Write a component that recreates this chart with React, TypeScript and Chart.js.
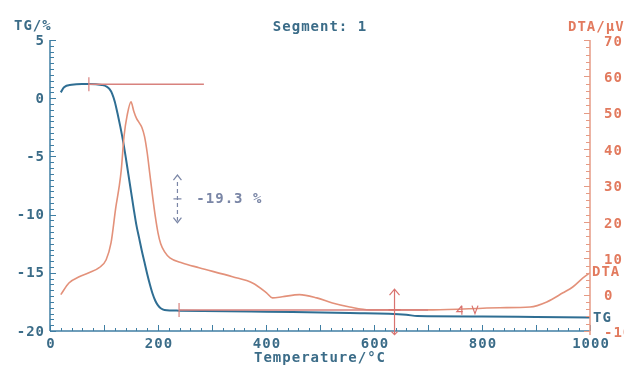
import React, { useEffect, useRef } from "react";
import { Chart, registerables } from "chart.js";

Chart.register(...registerables);

// ---- data ----
const tgTemp = [20, 26, 40, 59, 72, 96, 105, 110, 115, 120, 125, 130, 135, 140, 145, 150, 155, 160, 165, 170, 175, 180, 185, 190, 195, 200, 205, 212, 239, 400, 555, 660, 680, 800, 900, 1000];
const tgValue = [0.5, 0.95, 1.15, 1.22, 1.22, 1.13, 1.0, 0.8, 0.4, -0.3, -1.3, -2.4, -3.6, -5.0, -6.5, -8.0, -9.5, -10.9, -12.0, -13.1, -14.1, -15.1, -16.0, -16.8, -17.4, -17.8, -18.05, -18.2, -18.25, -18.35, -18.45, -18.6, -18.72, -18.75, -18.8, -18.85];

const dtaTemp = [20, 35, 54, 72, 91, 104, 113, 122, 128, 132, 137, 143, 150, 155, 160, 165, 170, 175, 180, 185, 190, 195, 200, 205, 212, 222, 245, 276, 338, 375, 401, 412, 430, 462, 494, 523, 555, 592, 629, 709, 833, 889, 920, 950, 968, 987, 1000];
const dtaValue = [0.0, 3.2, 4.9, 6.0, 7.4, 9.6, 14.2, 24.1, 29.6, 34.3, 43.4, 49.4, 53.0, 50.5, 48.5, 47.3, 46.0, 43.5, 39.0, 33.0, 27.0, 21.5, 17.0, 14.0, 11.8, 10.1, 8.7, 7.4, 4.9, 3.2, 0.5, -0.9, -0.6, 0.0, -0.9, -2.3, -3.4, -4.2, -4.2, -4.2, -3.6, -3.4, -2.0, 0.5, 2.1, 4.6, 6.0];

const upperTangentTemp = [72, 285];
const upperTangentValue = [1.2, 1.2];
const lowerTangentTemp = [239, 700];
const lowerTangentValue = [-18.2, -18.2];
const stepMarkerTemp = [72, 239];
const stepMarkerValue = [1.2, -18.2];

const massLossTemp = 236;
const massLossRange = [-6.6, -10.7];
const massLossLabel = "-19.3 %";
const massLossLabelTemp = 271;

const dtaMarkerTemp = 638;
const dtaMarkerRange = [1.5, -11];
const dtaMarkerCross = -4.2;
const smallMarkerTemp = [759, 787];
const smallMarkerDta = -4.4;

const xTickLabels = [0, 200, 400, 600, 800, 1000];
const tgTickLabels = [5, 0, -5, -10, -15, -20];
const dtaTickLabels = [70, 60, 50, 40, 30, 20, 10, 0, -10];

const titleText = "Segment: 1";
const xTitle = "Temperature/\u00b0C";
const tgTitle = "TG/%";
const dtaTitle = "DTA/\u00b5V";

// ---- style ----
const BLUE = "#2f6e93";
const BLUE_TEXT = "#3b6c88";
const ORANGE = "#e3917a";
const ORANGE_TEXT = "#e27a5e";
const RED = "#d8827e";
const GREY = "#7a86a6";
const FONT = "bold 14px 'DejaVu Sans Mono', monospace";

function pts(xs: number[], ys: number[]) {
  return xs.map((x, i) => ({ x, y: ys[i] }));
}

const axesPlugin = {
  id: "thermoAxes",
  afterDatasetsDraw(chart: any) {
    const ctx = chart.ctx as CanvasRenderingContext2D;
    const xs = chart.scales.x;
    const ys = chart.scales.y;
    const y2 = chart.scales.y2;
    const { left, right, top, bottom } = chart.chartArea;
    ctx.save();
    (ctx as any).letterSpacing = "1px";
    ctx.lineCap = "butt";

    // left axis
    ctx.strokeStyle = "#3f7ea3";
    ctx.lineWidth = 1.5;
    ctx.beginPath();
    ctx.moveTo(left, top);
    ctx.lineTo(left, bottom);
    ctx.stroke();
    ctx.lineWidth = 1;
    for (let v = -20; v <= 5.001; v += 0.5) {
      const y = Math.round(ys.getPixelForValue(v)) + 0.5;
      const major = Math.abs(v % 5) < 0.01;
      ctx.beginPath();
      ctx.moveTo(left, y);
      ctx.lineTo(left + (major ? 6 : 4), y);
      ctx.stroke();
    }
    // bottom axis
    ctx.lineWidth = 1.5;
    ctx.beginPath();
    ctx.moveTo(left, bottom);
    ctx.lineTo(right, bottom);
    ctx.stroke();
    ctx.lineWidth = 1;
    for (let v = 0; v <= 1000; v += 20) {
      const x = Math.round(xs.getPixelForValue(v)) + 0.5;
      const major = v % 100 === 0;
      ctx.beginPath();
      ctx.moveTo(x, bottom);
      ctx.lineTo(x, bottom - (major ? 6 : 3));
      ctx.stroke();
    }
    // right axis
    ctx.strokeStyle = "#e69a84";
    ctx.lineWidth = 1.5;
    ctx.beginPath();
    ctx.moveTo(right, top);
    ctx.lineTo(right, bottom + 4);
    ctx.stroke();
    ctx.lineWidth = 1;
    for (let v = -10; v <= 70; v += 2) {
      const y = Math.round(y2.getPixelForValue(v)) + 0.5;
      const major = v % 10 === 0;
      ctx.beginPath();
      ctx.moveTo(right, y);
      ctx.lineTo(right - (major ? 6 : 4), y);
      ctx.stroke();
    }

    ctx.font = FONT;
    // left labels
    ctx.fillStyle = BLUE_TEXT;
    ctx.textAlign = "right";
    ctx.textBaseline = "middle";
    tgTickLabels.forEach((v) => {
      ctx.fillText(String(v), 45, ys.getPixelForValue(v) + 1);
    });
    // x labels
    ctx.textAlign = "center";
    xTickLabels.forEach((v) => {
      ctx.fillText(String(v), xs.getPixelForValue(v) + 1, bottom + 13);
    });
    ctx.fillText(xTitle, 320, 358);
    ctx.fillText(titleText, 320, 27);
    ctx.textAlign = "left";
    ctx.fillText(tgTitle, 14, 26);
    ctx.fillText("TG", 593, ys.getPixelForValue(-18.85) + 1);

    // right labels
    ctx.fillStyle = ORANGE_TEXT;
    dtaTickLabels.forEach((v) => {
      ctx.fillText(String(v), 604, y2.getPixelForValue(v) + 2);
    });
    ctx.fillText(dtaTitle, 568, 27);
    ctx.fillText("DTA", 592, y2.getPixelForValue(6.0));

    // step markers
    ctx.strokeStyle = RED;
    ctx.lineWidth = 1.2;
    stepMarkerTemp.forEach((t, i) => {
      const x = xs.getPixelForValue(t);
      const y = ys.getPixelForValue(stepMarkerValue[i]);
      ctx.beginPath();
      ctx.moveTo(x, y - 7);
      ctx.lineTo(x, y + 7);
      ctx.stroke();
    });

    // mass-loss annotation
    ctx.strokeStyle = GREY;
    ctx.lineWidth = 1.2;
    const mx = xs.getPixelForValue(massLossTemp);
    const myTop = ys.getPixelForValue(massLossRange[0]);
    const myBot = ys.getPixelForValue(massLossRange[1]);
    ctx.beginPath();
    ctx.moveTo(mx - 4, myTop + 5);
    ctx.lineTo(mx, myTop);
    ctx.lineTo(mx + 4, myTop + 5);
    ctx.moveTo(mx - 4, myBot - 5);
    ctx.lineTo(mx, myBot);
    ctx.lineTo(mx + 4, myBot - 5);
    ctx.stroke();
    ctx.setLineDash([4, 3]);
    ctx.beginPath();
    ctx.moveTo(mx, myTop + 7);
    ctx.lineTo(mx, myBot - 2);
    ctx.stroke();
    ctx.setLineDash([]);
    const mMid = (myTop + myBot) / 2;
    ctx.beginPath();
    ctx.moveTo(mx - 4, mMid);
    ctx.lineTo(mx + 4, mMid);
    ctx.stroke();
    ctx.fillStyle = GREY;
    ctx.font = FONT;
    ctx.textBaseline = "middle";
    ctx.fillText(massLossLabel, xs.getPixelForValue(massLossLabelTemp), mMid);

    // DTA marker
    ctx.strokeStyle = "#d9736f";
    const dx = xs.getPixelForValue(dtaMarkerTemp);
    const dTop = y2.getPixelForValue(dtaMarkerRange[0]);
    const dBot = y2.getPixelForValue(dtaMarkerRange[1]);
    const dCross = y2.getPixelForValue(dtaMarkerCross);
    ctx.beginPath();
    ctx.moveTo(dx, dTop);
    ctx.lineTo(dx, dBot);
    ctx.moveTo(dx - 5, dTop + 6);
    ctx.lineTo(dx, dTop);
    ctx.lineTo(dx + 5, dTop + 6);
    ctx.moveTo(dx - 3, dBot - 3);
    ctx.lineTo(dx, dBot);
    ctx.lineTo(dx + 3, dBot - 3);
    ctx.moveTo(dx - 6, dCross);
    ctx.lineTo(dx + 6, dCross);
    ctx.stroke();

    // small markers
    const sy = y2.getPixelForValue(smallMarkerDta);
    const s1 = xs.getPixelForValue(smallMarkerTemp[0]);
    const s2 = xs.getPixelForValue(smallMarkerTemp[1]);
    ctx.beginPath();
    ctx.moveTo(s1 + 2, sy - 5);
    ctx.lineTo(s1 - 3, sy + 1);
    ctx.lineTo(s1 + 3, sy + 1);
    ctx.moveTo(s1 + 2, sy - 5);
    ctx.lineTo(s1 + 2, sy + 4);
    ctx.moveTo(s2 - 3, sy - 5);
    ctx.lineTo(s2, sy + 3);
    ctx.lineTo(s2 + 3, sy - 5);
    ctx.stroke();

    ctx.restore();
  },
};

export default function App() {
  const ref = useRef<HTMLCanvasElement | null>(null);
  useEffect(() => {
    if (!ref.current) return;
    const chart = new Chart(ref.current, {
      type: "line",
      data: {
        datasets: [
          {
            label: "Upper tangent",
            data: pts(upperTangentTemp, upperTangentValue),
            yAxisID: "y",
            borderColor: RED,
            borderWidth: 1.5,
            pointRadius: 0,
          },
          {
            label: "Lower tangent",
            data: pts(lowerTangentTemp, lowerTangentValue),
            yAxisID: "y",
            borderColor: RED,
            borderWidth: 1.5,
            pointRadius: 0,
          },
          {
            label: "DTA",
            data: pts(dtaTemp, dtaValue),
            yAxisID: "y2",
            borderColor: ORANGE,
            borderWidth: 1.6,
            pointRadius: 0,
            cubicInterpolationMode: "monotone",
          },
          {
            label: "TG",
            data: pts(tgTemp, tgValue),
            yAxisID: "y",
            borderColor: BLUE,
            borderWidth: 2,
            pointRadius: 0,
            cubicInterpolationMode: "monotone",
          },
        ],
      },
      options: {
        responsive: false,
        animation: false,
        parsing: false as any,
        layout: { padding: { left: 50, right: 34, top: 40, bottom: 37 } },
        plugins: { legend: { display: false }, tooltip: { enabled: false }, title: { display: false } },
        scales: {
          x: { type: "linear", min: 0, max: 1000, display: false },
          y: { type: "linear", min: -20, max: 5, display: false },
          y2: { type: "linear", min: -10, max: 70, display: false },
        },
      },
      plugins: [axesPlugin],
    });
    return () => chart.destroy();
  }, []);
  return (
    <div style={{ position: "absolute", left: 0, top: 0, width: 624, height: 368, background: "#fff" }}>
      <canvas ref={ref} width={624} height={368} style={{ display: "block" }} />
    </div>
  );
}
